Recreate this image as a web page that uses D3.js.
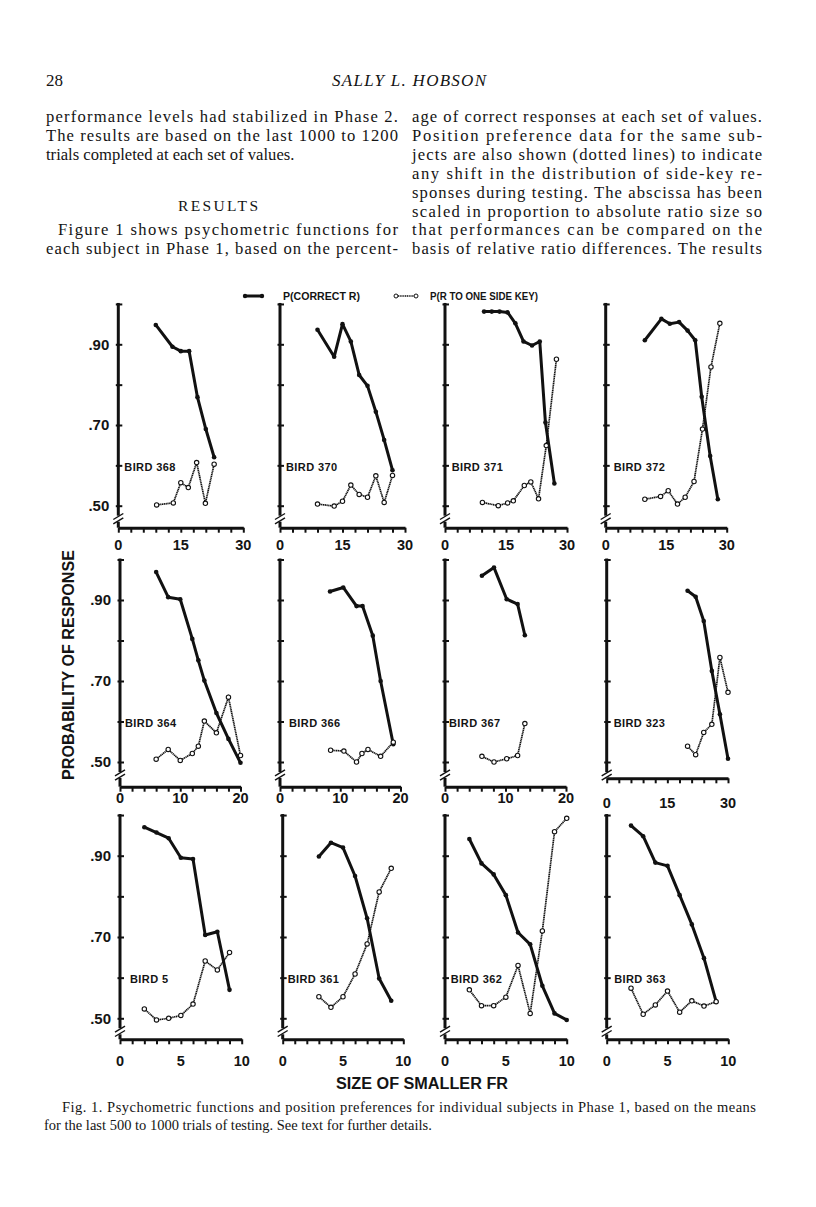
<!DOCTYPE html>
<html>
<head>
<meta charset="utf-8">
<script src="https://cdn.jsdelivr.net/npm/d3@7"></script>
<style>
  body { margin: 0; background: #fff; }
  svg { display: block; }
  .serif { font-family: "Liberation Serif", "DejaVu Serif", serif; fill: #141414; }
  .sans { font-family: "Liberation Sans", Arial, sans-serif; font-weight: bold; fill: #141414; }
</style>
</head>
<body>
<svg id="page"></svg>
<script>
// ---- データ ----
const birds = ["368", "370", "371", "372", "364", "366", "367", "323", "5", "361", "362", "363"];
const xTicks = [
  [0, 15, 30], [0, 15, 30], [0, 15, 30], [0, 15, 30],
  [0, 10, 20], [0, 10, 20], [0, 10, 20], [0, 15, 30],
  [0, 5, 10], [0, 5, 10], [0, 5, 10], [0, 5, 10]
];
const yTickValues = [0.5, 0.6, 0.7, 0.8, 0.9, 1.0];
const yTickLabels = [".50", "", ".70", "", ".90", ""];

// P(CORRECT R)
const x368 = [9, 13, 15, 17, 19, 21, 23];
const c368 = [0.948, 0.894, 0.883, 0.883, 0.769, 0.690, 0.620];
const x370 = [9, 13, 15, 17, 19, 21, 23, 25, 27];
const c370 = [0.936, 0.869, 0.950, 0.907, 0.824, 0.797, 0.733, 0.663, 0.588];
const x371 = [9.6, 11.5, 13.4, 15.4, 17.3, 19.3, 21.4, 23.3, 24.7, 26.9];
const c371 = [0.981, 0.981, 0.981, 0.979, 0.952, 0.907, 0.897, 0.907, 0.706, 0.555];
const x372 = [9.7, 13.8, 15.9, 18.2, 20.3, 22.2, 23.8, 25.9, 27.8];
const c372 = [0.910, 0.963, 0.951, 0.955, 0.934, 0.910, 0.770, 0.623, 0.516];
const x364 = [6, 8, 10, 12, 13, 14, 16, 18, 20];
const c364 = [0.969, 0.907, 0.902, 0.804, 0.751, 0.701, 0.621, 0.557, 0.498];
const x366 = [8.3, 10.5, 12.7, 13.7, 15.4, 16.7, 18.8];
const c366 = [0.921, 0.931, 0.885, 0.885, 0.812, 0.700, 0.544];
const x367 = [6.1, 8.1, 10.2, 12.0, 13.2];
const c367 = [0.960, 0.980, 0.902, 0.890, 0.813];
const x323 = [20, 22, 24, 26, 28, 30];
const c323 = [0.923, 0.908, 0.848, 0.725, 0.618, 0.508];
const x5 = [2, 3, 4, 5, 6, 7, 8, 9];
const c5 = [0.970, 0.957, 0.943, 0.895, 0.892, 0.705, 0.713, 0.570];
const x361 = [3, 4, 5, 6, 7, 8, 9];
const c361 = [0.898, 0.932, 0.920, 0.850, 0.746, 0.598, 0.543];
const x362 = [2, 3, 4, 5, 6, 7, 8, 9, 10];
const c362 = [0.941, 0.881, 0.854, 0.803, 0.711, 0.682, 0.580, 0.512, 0.496];
const x363 = [2, 3, 4, 5, 6, 7, 8, 9];
const c363 = [0.974, 0.948, 0.883, 0.875, 0.803, 0.731, 0.648, 0.541];

// P(R TO ONE SIDE KEY)
const px368 = [9.2, 13.2, 15.0, 16.8, 18.8, 20.9, 23.0];
const p368 = [0.502, 0.507, 0.557, 0.545, 0.607, 0.506, 0.603];
const p370 = [0.504, 0.499, 0.511, 0.551, 0.528, 0.521, 0.574, 0.508, 0.575];
const px371 = [9.2, 13.1, 15.4, 16.8, 19.5, 21.1, 23.0, 24.9, 27.4];
const p371 = [0.508, 0.500, 0.507, 0.512, 0.550, 0.559, 0.517, 0.649, 0.863];
const px372 = [9.7, 13.6, 15.5, 17.8, 19.7, 21.9, 24.0, 26.1, 28.3];
const p372 = [0.516, 0.523, 0.537, 0.504, 0.521, 0.560, 0.690, 0.844, 0.952];
const p364 = [0.507, 0.531, 0.504, 0.521, 0.539, 0.601, 0.572, 0.660, 0.516];
const px366 = [8.4, 10.6, 12.7, 13.6, 14.6, 16.7, 18.8];
const p366 = [0.529, 0.527, 0.500, 0.521, 0.531, 0.514, 0.549];
const p367 = [0.514, 0.500, 0.508, 0.516, 0.595];
const p323 = [0.539, 0.518, 0.573, 0.593, 0.758, 0.672];
const p5 = [0.523, 0.496, 0.500, 0.507, 0.535, 0.641, 0.619, 0.662];
const p361 = [0.553, 0.527, 0.553, 0.609, 0.683, 0.811, 0.869];
const p362 = [0.570, 0.531, 0.531, 0.552, 0.630, 0.512, 0.715, 0.959, 0.992];
const p363 = [0.574, 0.510, 0.533, 0.567, 0.515, 0.543, 0.530, 0.541];

const correctX = [x368, x370, x371, x372, x364, x366, x367, x323, x5, x361, x362, x363];
const correctY = [c368, c370, c371, c372, c364, c366, c367, c323, c5, c361, c362, c363];
const prefX = [px368, x370, px371, px372, x364, px366, x367, x323, x5, x361, x362, x363];
const prefY = [p368, p370, p371, p372, p364, p366, p367, p323, p5, p361, p362, p363];

// テキスト
const headerNum = "28";
const headerTitle = "SALLY L. HOBSON";
const leftLines = [
  "performance levels had stabilized in Phase 2.",
  "The results are based on the last 1000 to 1200",
  "trials completed at each set of values."
];
const resultsHead = "RESULTS";
const leftLines2 = [
  "Figure 1 shows psychometric functions for",
  "each subject in Phase 1, based on the percent-"
];
const rightLines = [
  "age of correct responses at each set of values.",
  "Position preference data for the same sub-",
  "jects are also shown (dotted lines) to indicate",
  "any shift in the distribution of side-key re-",
  "sponses during testing. The abscissa has been",
  "scaled in proportion to absolute ratio size so",
  "that performances can be compared on the",
  "basis of relative ratio differences. The results"
];
const legendLabels = ["P(CORRECT R)", "P(R TO ONE SIDE KEY)"];
const yTitle = "PROBABILITY OF RESPONSE";
const xTitle = "SIZE OF SMALLER FR";
const captionLines = [
  "Fig. 1. Psychometric functions and position preferences for individual subjects in Phase 1, based on the means",
  "for the last 500 to 1000 trials of testing. See text for further details."
];

// ---- レイアウト ----
const panelLeft = [118.3, 280, 445, 605.7, 120, 280, 445, 606.7, 120, 282.7, 445, 606.7];
const panelWidth = [125, 125, 122, 121, 120.5, 120.5, 121, 121.3, 121.7, 120.6, 121.7, 121.6];
const rowY50 = [505.7, 762, 1018.3];
const rowSpan = [201.75, 202.5, 203.25];   // 0.5 -> 1.0 の高さ
const axisYs = [527.7, 527.7, 527.7, 527.7, 786.7, 786.7, 786.7, 778.3, 1039.3, 1039.3, 1039.3, 1039.3];
const labelBase = [550, 550, 550, 550, 803, 803, 803, 808, 1066, 1066, 1066, 1066];
const labelDx = [6, 6, 6.7, 8, 5, 9, 4, 7, 10, 5, 5.7, 7.5];

const svg = d3.select("#page")
  .attr("width", 816)
  .attr("height", 1207);

// ---- 本文 ----
svg.append("text").attr("class", "serif")
  .attr("x", 46).attr("y", 86).style("font-size", "17px")
  .text(headerNum);
svg.append("text").attr("class", "serif")
  .attr("x", 409).attr("y", 86).attr("text-anchor", "middle")
  .style("font-size", "17px").style("font-style", "italic")
  .attr("textLength", 154).attr("lengthAdjust", "spacing")
  .text(headerTitle);

const lineH = 18.9, base0 = 122;
function bodyLine(str, x, y, len) {
  const t = svg.append("text").attr("class", "serif")
    .attr("x", x).attr("y", y).style("font-size", "16.6px").text(str);
  if (len) t.attr("textLength", len).attr("lengthAdjust", "spacing");
}
leftLines.forEach((s, i) => bodyLine(s, 46, base0 + i * lineH, i < 2 ? 352 : null));
svg.append("text").attr("class", "serif")
  .attr("x", 218).attr("y", base0 + 4.6 * lineH + 2).attr("text-anchor", "middle")
  .style("font-size", "15.5px").attr("textLength", 80).attr("lengthAdjust", "spacing")
  .text(resultsHead);
leftLines2.forEach((s, i) => bodyLine(s, i == 0 ? 58 : 46, base0 + (6 + i) * lineH, i == 0 ? 340 : 352));
rightLines.forEach((s, i) => bodyLine(s, 412, base0 + i * lineH, 350));

// ---- 凡例 ----
const legY = 296;
svg.append("line").attr("x1", 245).attr("x2", 262).attr("y1", legY).attr("y2", legY)
  .attr("stroke", "#111").attr("stroke-width", 3);
svg.selectAll(".legdot").data([245, 262]).enter().append("circle")
  .attr("cx", d => d).attr("cy", legY).attr("r", 2.2).attr("fill", "#111");
svg.append("line").attr("x1", 396).attr("x2", 416).attr("y1", legY).attr("y2", legY)
  .attr("stroke", "#111").attr("stroke-width", 1.5).attr("stroke-dasharray", "1.2 0.6");
svg.selectAll(".legopen").data([396, 416]).enter().append("circle")
  .attr("cx", d => d).attr("cy", legY).attr("r", 2).attr("fill", "#fff")
  .attr("stroke", "#111").attr("stroke-width", 1);
svg.append("text").attr("class", "sans").attr("x", 283).attr("y", legY + 3.6)
  .style("font-size", "10px").attr("textLength", 77).attr("lengthAdjust", "spacingAndGlyphs")
  .text(legendLabels[0]);
svg.append("text").attr("class", "sans").attr("x", 430).attr("y", legY + 3.6)
  .style("font-size", "10px").attr("textLength", 108).attr("lengthAdjust", "spacingAndGlyphs")
  .text(legendLabels[1]);

// ---- パネル ----
birds.forEach((bird, i) => {
  const row = Math.floor(i / 4), col = i % 4;
  const ax = panelLeft[i];
  const xMax = xTicks[i][2];
  const x = d3.scaleLinear().domain([0, xMax]).range([ax, ax + panelWidth[i]]);
  const y = d3.scaleLinear().domain([0.5, 1.0]).range([rowY50[row], rowY50[row] - rowSpan[row]]);
  const axisY = axisYs[i];
  const g = svg.append("g");

  // x軸
  const xa = g.append("g")
    .attr("transform", `translate(0,${axisY})`)
    .call(d3.axisBottom(x)
      .tickValues(d3.range(0, 11).map(k => k * xMax / 10))
      .tickSize(5).tickSizeOuter(0)
      .tickFormat(() => ""));
  xa.select(".domain").attr("stroke-width", 3).attr("stroke", "#111");
  xa.selectAll(".tick line").attr("stroke-width", 2).attr("stroke", "#111");
  g.selectAll(".xlab").data(xTicks[i]).enter().append("text")
    .attr("class", "sans").attr("x", d => x(d)).attr("y", labelBase[i])
    .attr("text-anchor", "middle").style("font-size", "14.5px")
    .text(d => d);

  // y軸（切れ目付き）
  const breakY = y(0.5) + 13;
  g.append("line").attr("x1", ax).attr("x2", ax).attr("y1", y(1.0) - 1).attr("y2", breakY - 3)
    .attr("stroke", "#111").attr("stroke-width", 3);
  g.append("line").attr("x1", ax).attr("x2", ax).attr("y1", breakY + 3).attr("y2", axisY)
    .attr("stroke", "#111").attr("stroke-width", 3);
  [-2.2, 2.2].forEach(o => {
    g.append("line")
      .attr("x1", ax - 5).attr("y1", breakY + o + 3)
      .attr("x2", ax + 5).attr("y2", breakY + o - 3)
      .attr("stroke", "#111").attr("stroke-width", 1.4);
  });
  const ya = g.append("g")
    .attr("transform", `translate(${ax - 2.5},0)`)
    .call(d3.axisRight(y).tickValues(yTickValues).tickSize(6.5).tickFormat(""));
  ya.select(".domain").remove();
  ya.selectAll(".tick line").attr("stroke-width", 2).attr("stroke", "#111");
  if (col === 0) {
    yTickValues.forEach((v, k) => {
      if (!yTickLabels[k]) return;
      g.append("text").attr("class", "sans")
        .attr("x", ax - 9).attr("y", y(v) + 5.2).attr("text-anchor", "end")
        .style("font-size", "15px").text(yTickLabels[k]);
    });
  }

  // 位置選好（点線と白丸）と正反応（太線と黒丸）
  const pts = prefX[i].map((v, k) => [v, prefY[i][k]]);
  const cpts = correctX[i].map((v, k) => [v, correctY[i][k]]);
  const line = d3.line().x(d => x(d[0])).y(d => y(d[1]));
  g.append("path").attr("d", line(pts)).attr("fill", "none")
    .attr("stroke", "#111").attr("stroke-width", 1.7).attr("stroke-dasharray", "1.3 0.5");
  g.append("path").attr("d", line(cpts)).attr("fill", "none")
    .attr("stroke", "#111").attr("stroke-width", 3).attr("stroke-linejoin", "round");
  g.selectAll(".cdot").data(cpts).enter().append("circle")
    .attr("cx", d => x(d[0])).attr("cy", d => y(d[1])).attr("r", 2.3).attr("fill", "#111");
  g.selectAll(".pdot").data(pts).enter().append("circle")
    .attr("cx", d => x(d[0])).attr("cy", d => y(d[1])).attr("r", 2.2)
    .attr("fill", "#fff").attr("stroke", "#111").attr("stroke-width", 1.1);

  // ラベル
  g.append("text").attr("class", "sans")
    .attr("x", ax + labelDx[i]).attr("y", y(0.6) + 5.5)
    .style("font-size", "11px").style("letter-spacing", "0.4px")
    .text("BIRD " + bird);
});

// ---- 軸タイトル ----
svg.append("text").attr("class", "sans")
  .attr("transform", "translate(74,665) rotate(-90)")
  .attr("text-anchor", "middle").style("font-size", "17px")
  .attr("textLength", 230).attr("lengthAdjust", "spacingAndGlyphs")
  .text(yTitle);
svg.append("text").attr("class", "sans")
  .attr("x", 422).attr("y", 1089).attr("text-anchor", "middle")
  .style("font-size", "16px")
  .attr("textLength", 172).attr("lengthAdjust", "spacingAndGlyphs")
  .text(xTitle);

// ---- キャプション ----
svg.append("text").attr("class", "serif")
  .attr("x", 62).attr("y", 1112).style("font-size", "14.5px")
  .attr("textLength", 694).attr("lengthAdjust", "spacing")
  .text(captionLines[0]);
svg.append("text").attr("class", "serif")
  .attr("x", 44).attr("y", 1130).style("font-size", "14.5px")
  .text(captionLines[1]);
</script>
</body>
</html>
